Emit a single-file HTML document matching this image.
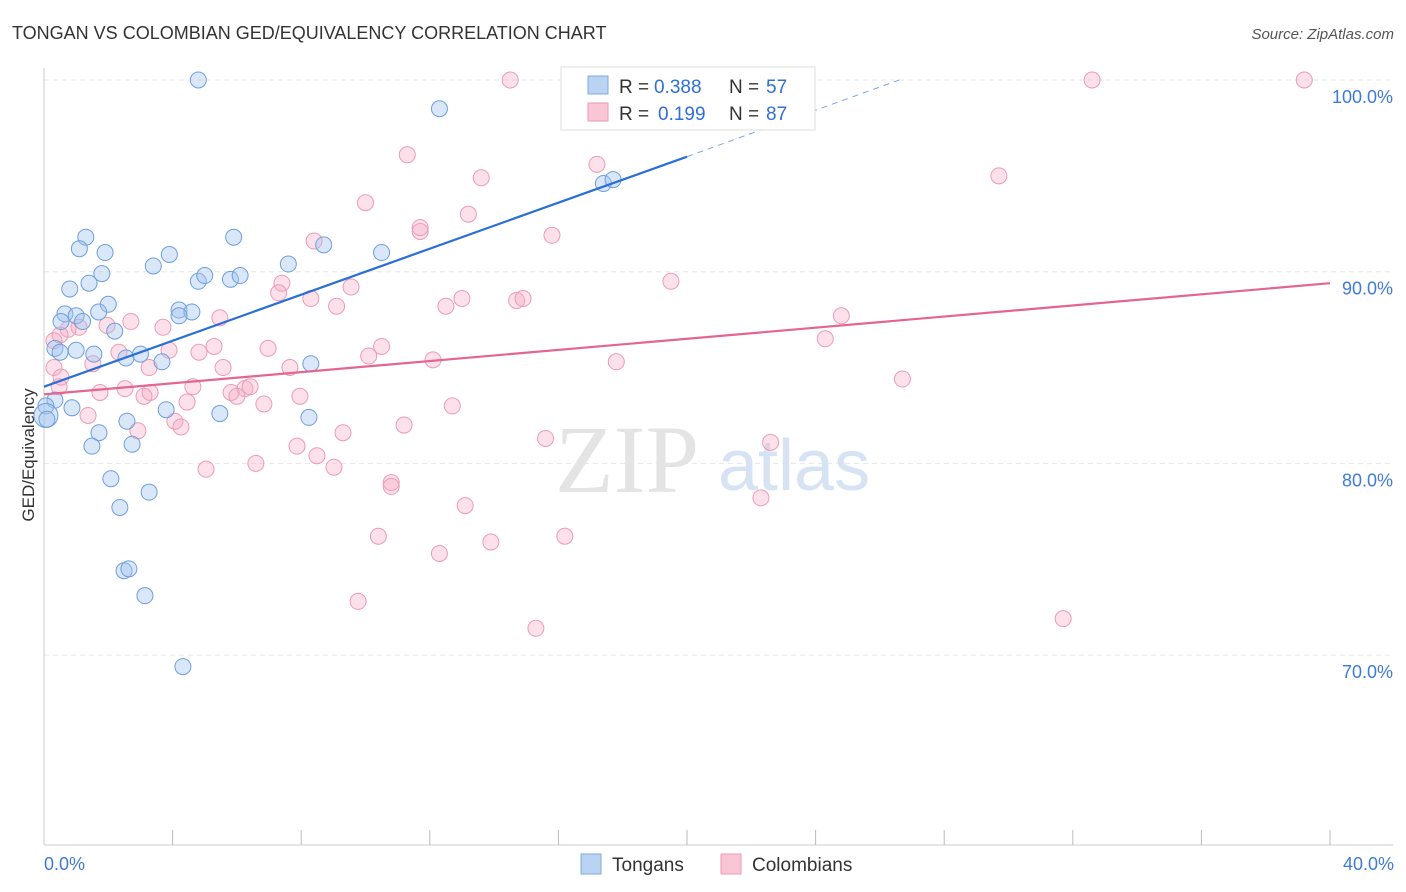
<!DOCTYPE html>
<html><head><meta charset="utf-8"><style>
body{margin:0;background:#fff;font-family:"Liberation Sans",sans-serif;}
svg{display:block}
</style></head><body>
<svg id="chart" width="1406" height="892" viewBox="0 0 1406 892">
<text x="12" y="39" font-size="18" fill="#333">TONGAN VS COLOMBIAN GED/EQUIVALENCY CORRELATION CHART</text>
<text x="1394" y="39" font-size="15" fill="#555" font-style="italic" text-anchor="end">Source: ZipAtlas.com</text>
<g id="grid"></g>
<g id="axes"></g>
<text x="555" y="492" font-size="96" fill="#e4e4e4" font-family="Liberation Serif,serif">ZIP</text>
<text x="718" y="490" font-size="72" fill="#d6e3f3">atlas</text>
<g id="pts"></g>
<g id="trends"></g>
<text transform="translate(34,455) rotate(-90)" font-size="17" fill="#333" text-anchor="middle">GED/Equivalency</text>
<g>
<rect x="561" y="67" width="254" height="63" fill="#fff" stroke="#ddd"/>
<rect x="588" y="76" width="20" height="18" fill="#b9d3f2" stroke="#7fa9e0"/>
<rect x="588" y="103" width="20" height="18" fill="#f9c6d5" stroke="#ec9ab4"/>
<text x="619" y="93" font-size="19" fill="#333">R =</text><text x="654" y="93" font-size="19" fill="#2f6fd6">0.388</text>
<text x="729" y="93" font-size="19" fill="#333">N =</text><text x="766" y="93" font-size="19" fill="#2f6fd6">57</text>
<text x="619" y="120" font-size="19" fill="#333">R =</text><text x="658" y="120" font-size="19" fill="#2f6fd6">0.199</text>
<text x="729" y="120" font-size="19" fill="#333">N =</text><text x="766" y="120" font-size="19" fill="#2f6fd6">87</text>
</g>
<g>
<rect x="581" y="854" width="20" height="20" fill="#b9d3f2" stroke="#7fa9e0"/>
<text x="612" y="871" font-size="19" fill="#333">Tongans</text>
<rect x="721" y="854" width="20" height="20" fill="#f9c6d5" stroke="#ec9ab4"/>
<text x="752" y="871" font-size="19" fill="#333">Colombians</text>
</g>
</svg>
<script>
const yTicks=[100,90,80,70];
const xLabels=["0.0%","40.0%"];
const tongansX=[4.8,12.3,17.4,17.7,1.3,1.1,1.9,3.9,5.9,8.7,10.5,7.6,3.4,1.8,1.4,4.8,5.0,5.8,6.1,0.8,2.0,1.7,4.2,4.6,4.2,0.65,1.0,0.53,1.2,2.2,0.34,0.5,1.0,1.55,2.55,3.0,3.67,8.3,0.34,0.06,0.87,3.8,5.47,2.58,8.24,0.06,1.71,2.74,1.49,2.08,3.27,2.36,2.49,2.64,3.14,4.32,0.09];
const tongansY=[100,98.5,94.6,94.8,91.8,91.2,91.0,90.9,91.8,91.4,91.0,90.4,90.3,89.9,89.4,89.5,89.8,89.6,89.8,89.1,88.3,87.9,88.0,87.9,87.7,87.8,87.7,87.4,87.4,86.9,86.0,85.8,85.9,85.7,85.5,85.7,85.3,85.2,83.3,83.0,82.9,82.8,82.6,82.2,82.4,82.5,81.6,81.0,80.9,79.2,78.5,77.7,74.4,74.5,73.1,69.4,82.3];
const colX=[14.5,32.6,39.2,11.3,17.2,13.6,29.7,10.0,13.2,11.7,11.7,15.8,8.4,19.5,7.4,7.3,9.55,8.3,13.0,14.7,14.9,12.5,9.1,24.8,5.47,2.7,3.7,1.96,1.09,0.75,0.5,0.31,24.3,6.97,5.29,4.82,3.89,2.33,10.5,10.1,12.1,17.8,7.65,5.57,1.52,3.27,0.31,26.7,4.63,2.52,1.74,3.3,6.25,6.41,5.82,6.0,7.96,3.11,4.45,6.84,12.7,0.47,1.37,4.07,4.26,2.92,11.2,9.3,15.6,22.6,7.87,8.49,9.02,5.04,6.59,10.8,10.8,13.1,22.3,10.4,16.2,12.3,13.9,9.77,15.3,31.7,0.53];
const colY=[100,100,100,96.1,95.6,94.9,95.0,93.6,93.0,92.1,92.3,91.9,91.6,89.5,89.4,88.9,89.2,88.6,88.6,88.5,88.6,88.2,88.2,87.7,87.6,87.4,87.1,87.2,87.1,87.0,86.7,86.4,86.5,86.0,86.1,85.8,85.9,85.8,86.1,85.6,85.4,85.3,85.0,85.0,85.2,85.0,85.0,84.4,84.0,83.9,83.7,83.7,83.9,84.0,83.7,83.5,83.5,83.5,83.2,83.1,83.0,84.0,82.5,82.2,81.9,81.7,82.0,81.6,81.3,81.1,80.9,80.4,79.8,79.7,80.0,79.0,78.8,77.8,78.2,76.2,76.2,75.3,75.9,72.8,71.4,71.9,84.5];
const tongansTrend=[[0,84.0],[20,96.0],[26.6,100]];
const colTrend=[[0,83.6],[40,89.4]];
const X=v=>44+v*32.15, Y=v=>80+(100-v)*19.17;
const NS='http://www.w3.org/2000/svg';
function mk(t,a,p){const e=document.createElementNS(NS,t);for(const k in a)e.setAttribute(k,a[k]);p.appendChild(e);return e;}
const grid=document.getElementById('grid'),axes=document.getElementById('axes');
yTicks.forEach(t=>{const l=mk('line',{x1:44,x2:1393,y1:Y(t),y2:Y(t),stroke:'#e6e6e6','stroke-dasharray':'5,4'},grid);


const tx=mk('text',{x:1393,y:Y(t)+23,'font-size':18,fill:'#3f7bd6','text-anchor':'end'},axes);tx.textContent=t.toFixed(1)+'%';

});
mk('line',{x1:44,x2:44,y1:68,y2:845,stroke:'#ccc'},axes);
mk('line',{x1:44,x2:1393,y1:845,y2:845,stroke:'#ccc'},axes);
for(let i=1;i<=10;i++){mk('line',{x1:X(i*4),x2:X(i*4),y1:830,y2:845,stroke:'#bbb'},axes);}
const t0=mk('text',{x:44,y:870,'font-size':18,fill:'#3f7bd6'},axes);t0.textContent=xLabels[0];


const t1=mk('text',{x:1394,y:870,'font-size':18,fill:'#3f7bd6','text-anchor':'end'},axes);t1.textContent=xLabels[1];


const pts=document.getElementById('pts');
colX.forEach((x,i)=>{const c=mk('circle',{cx:X(x),cy:Y(colY[i]),r:8,fill:'rgba(245,170,195,0.35)',stroke:'#eb9bb5','stroke-width':1},pts);

});
tongansX.forEach((x,i)=>{const c=mk('circle',{cx:X(x),cy:Y(tongansY[i]),r:(i==45?12:8),fill:'rgba(160,195,238,0.4)',stroke:'#6d9fdf','stroke-width':1},pts);

});
const tr=document.getElementById('trends');
const a=mk('line',{x1:X(tongansTrend[0][0]),y1:Y(tongansTrend[0][1]),x2:X(tongansTrend[1][0]),y2:Y(tongansTrend[1][1]),stroke:'#2a6fd8','stroke-width':2.2},tr);


const b=mk('line',{x1:X(tongansTrend[1][0]),y1:Y(tongansTrend[1][1]),x2:X(tongansTrend[2][0]),y2:Y(tongansTrend[2][1]),stroke:'#7aa6e6','stroke-width':1,'stroke-dasharray':'6,5'},tr);


const c=mk('line',{x1:X(colTrend[0][0]),y1:Y(colTrend[0][1]),x2:X(colTrend[1][0]),y2:Y(colTrend[1][1]),stroke:'#e4668f','stroke-width':2.2},tr);


</script>
</body></html>
